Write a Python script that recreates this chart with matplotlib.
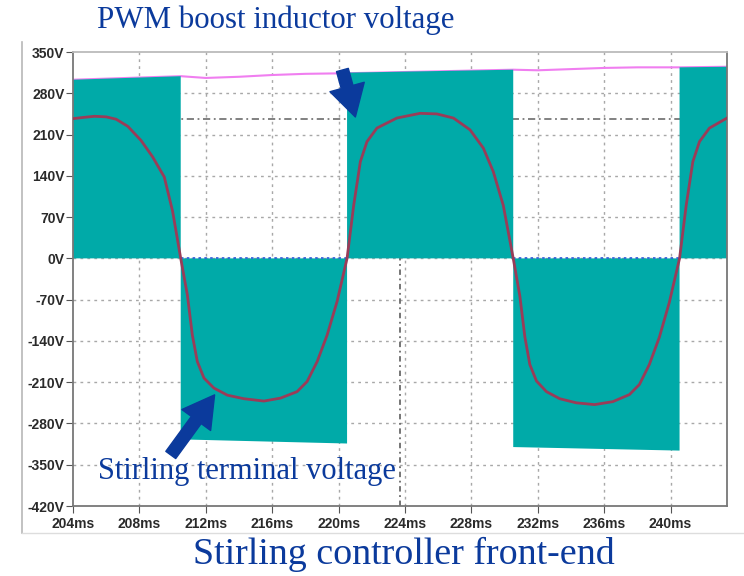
import matplotlib
matplotlib.use("Agg")
import matplotlib.pyplot as plt
from matplotlib.lines import Line2D

# PWM boost inductor voltage: square-wave segments (edges in ms, envelope in V)
sw_edges = [204.0, 210.49, 220.51, 230.52, 240.54, 243.4]
sw_start = [303, -307, 315, -320, 324]
sw_end = [309, -314, 320, -326, 325]

# envelope trace (pink) seen above the white gaps
env_t = [204.0, 210.49, 212.0, 214.0, 216.0, 218.0, 220.51, 230.52, 232.0, 234.0, 236.0, 238.0, 240.54, 243.4]
env_v = [303, 309, 306, 308, 311, 313, 314, 320, 319, 321, 323, 324, 324, 325]

# Stirling terminal voltage
term_t = [204.0, 204.6, 205.3, 206.0, 206.6, 207.3, 208.1, 208.8, 209.5, 210.0,
          210.49, 210.89, 211.19, 211.49, 211.89, 212.49, 213.3, 214.29, 215.5, 216.5,
          217.5, 218.1, 218.71, 219.31, 219.91, 220.51, 220.91, 221.31, 221.71, 222.31,
          223.51, 224.91, 225.92, 226.92, 227.92, 228.72, 229.32, 229.92, 230.52, 230.92,
          231.22, 231.52, 231.92, 232.52, 233.32, 234.32, 235.42, 236.52, 237.52, 238.12,
          238.72, 239.32, 239.92, 240.54, 240.94, 241.34, 241.74, 242.34, 243.4]
term_v = [237, 239, 241, 240, 236, 224, 200, 172, 138, 80,
          0, -62, -130, -175, -203, -220, -232, -238, -242, -237,
          -226, -209, -175, -130, -73, 0, 90, 164, 198, 221,
          238, 246, 245, 238, 218, 187, 147, 90, 0, -64,
          -133, -180, -208, -226, -238, -245, -248, -243, -231, -214,
          -180, -134, -75, 0, 90, 164, 198, 221, 238]

x_ticks = [204, 208, 212, 216, 220, 224, 228, 232, 236, 240]
y_ticks = [-420, -350, -280, -210, -140, -70, 0, 70, 140, 210, 280, 350]
cursor_v = 237
cursor_t = 223.7

TEAL = "#00aaa8"
NAVY = "#0b3a9c"


def main():
    fig = plt.figure(figsize=(7.44, 5.76), dpi=100)
    ax = fig.add_axes([0.0981, 0.1215, 0.8791, 0.7882])

    # grid and cursors under the waveform
    for t in x_ticks[1:]:
        ax.axvline(t, color="#a8a8a8", lw=1, ls=(0, (2, 3)), zorder=0)
    for v in y_ticks[1:-1]:
        ax.axhline(v, color="#a8a8a8", lw=1, ls=(0, (2, 3)), zorder=0)
    ax.axhline(cursor_v, color="#777777", lw=1.3, ls=(0, (4, 2, 1, 2)), zorder=0.5)
    ax.plot([cursor_t, cursor_t], [-420, 0], color="#6a6a6a", lw=1.3,
            ls=(0, (3, 2, 1, 2)), zorder=0.5)

    ax.plot(env_t, env_v, color="#f07ef0", lw=1.5, zorder=1)

    for i in range(len(sw_start)):
        t0, t1 = sw_edges[i], sw_edges[i + 1]
        ax.fill([t0, t0, t1, t1], [0, sw_start[i], sw_end[i], 0],
                color=TEAL, lw=0, zorder=2)
        if sw_start[i] < 0:
            ax.plot([t0, t1], [0, 0], color="#2a5ad8", lw=1.2,
                    ls=(0, (1.5, 2)), zorder=3)

    ax.plot(term_t, term_v, color="#9a3c58", lw=2.0, zorder=4)

    ax.set_xlim(204, 243.4)
    ax.set_ylim(-420, 350)
    ax.set_xticks(x_ticks)
    ax.set_xticklabels([f"{t}ms" for t in x_ticks])
    ax.set_yticks(y_ticks)
    ax.set_yticklabels([f"{v}V" for v in y_ticks])
    for lab in ax.get_xticklabels() + ax.get_yticklabels():
        lab.set_fontfamily("Liberation Sans")
        lab.set_fontweight("bold")
        lab.set_fontsize(10)
        lab.set_color("#2a2a2a")
    ax.tick_params(axis="x", length=5, pad=3, color="#555555")
    ax.tick_params(axis="y", length=5, pad=1, color="#555555")
    for side, s in ax.spines.items():
        s.set_color("#777777" if side != "top" else "#bbbbbb")
        s.set_linewidth(1.3)

    # arrows
    arrow = dict(arrowstyle="simple,head_length=1.4,head_width=1.6,tail_width=0.55",
                 color=NAVY, shrinkA=0, shrinkB=0, mutation_scale=16)
    ax.annotate("", xy=(221.01, 239.8), xytext=(220.23, 319.5),
                arrowprops=arrow, annotation_clip=False, zorder=6)
    ax.annotate("", xy=(212.53, -231.5), xytext=(209.89, -333.4),
                arrowprops=arrow, annotation_clip=False, zorder=6)

    # texts
    fig.text(97 / 744, 1 - 20 / 576, "PWM boost inductor voltage", family="Liberation Serif",
             fontsize=22.2, color=NAVY, va="center", ha="left")
    fig.text(98 / 744, 1 - 471 / 576, "Stirling terminal voltage", family="Liberation Serif",
             fontsize=22, color=NAVY, va="center", ha="left")
    fig.text(404 / 744, 1 - 554 / 576, "Stirling controller front-end", family="Liberation Serif",
             fontsize=27.4, color=NAVY, va="center", ha="center")

    # outer window frame
    fig.add_artist(Line2D([22 / 744, 22 / 744], [1 - 42 / 576, 1 - 533 / 576],
                          transform=fig.transFigure, color="#b8b8b8", lw=1.2))
    fig.add_artist(Line2D([22 / 744, 1.0], [1 - 533 / 576, 1 - 533 / 576],
                          transform=fig.transFigure, color="#dddddd", lw=1.0))

    fig.savefig("out.png", dpi=100)


if __name__ == "__main__":
    main()
